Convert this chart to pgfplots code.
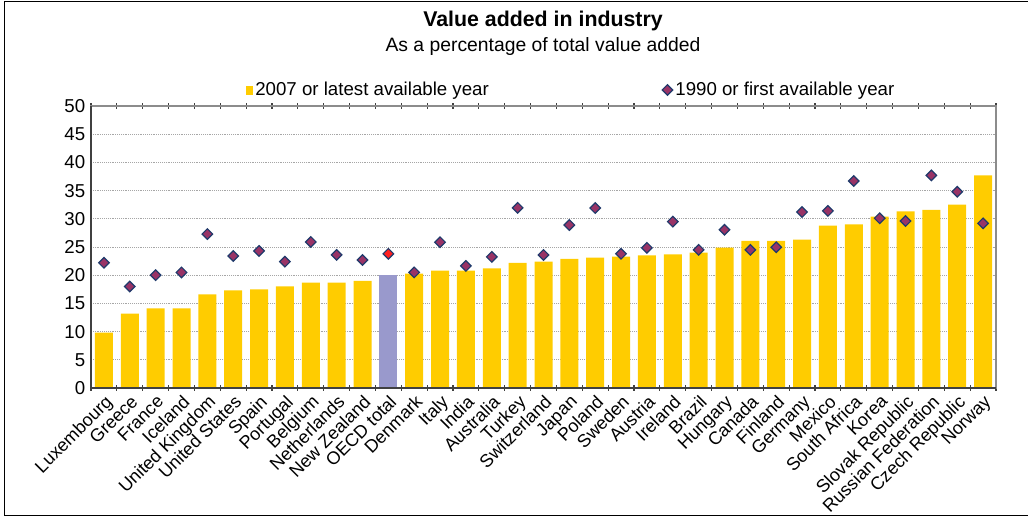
\documentclass[border=0pt]{standalone}
\usepackage{pgfplots}
\pgfplotsset{compat=1.18}
\usepackage{fontspec}
\setmainfont{Liberation Sans}
\definecolor{barY}{HTML}{FFCC00}
\definecolor{oecdB}{HTML}{9999CC}
\definecolor{dmFill}{HTML}{993366}
\definecolor{dmEdge}{HTML}{1F3A6B}
\definecolor{redF}{HTML}{FF2020}
\definecolor{frameGray}{HTML}{8C8C8C}
\definecolor{axDark}{HTML}{404040}
\begin{document}
\begin{tikzpicture}[x=0.75pt,y=0.75pt]
\useasboundingbox (0,0) rectangle (1028,518);
\draw[black, line width=1.2pt] (1032,516.5) -- (4.5,516.5) -- (4.5,2.5) -- (1032,2.5);
\node[font=\bfseries\fontsize{16}{18}\selectfont] at (543,497) {Value added in industry};
\node[font=\fontsize{14.5}{17}\selectfont] at (543,471) {As a percentage of total value added};
\begin{axis}[
  at={(68.25pt,97.5pt)}, anchor=south west,
  scale only axis, width=678.75pt, height=211.5pt,
  xmin=-0.5, xmax=34.5, ymin=0, ymax=50,
  ytick={0,5,...,50},
  xtick={0,...,34},
  xticklabels={Luxembourg,Greece,France,Iceland,United Kingdom,United States,Spain,Portugal,Belgium,Netherlands,New Zealand,OECD total,Denmark,Italy,India,Australia,Turkey,Switzerland,Japan,Poland,Sweden,Austria,Ireland,Brazil,Hungary,Canada,Finland,Germany,Mexico,South Africa,Korea,Slovak Republic,Russian Federation,Czech Republic,Norway},
  minor xtick={-0.5,0.5,...,34.5},
  major x tick style={draw=none},
  ytick style={draw=none},
  minor x tick style={axDark, line width=0.8pt},
  minor tick length=4pt,
  tick align=center,
  ymajorgrids,
  major grid style={densely dotted, gray!70, line width=0.6pt},
  axis line style={frameGray, line width=1.5pt},
  /pgf/number format/assume math mode=true,
  yticklabel style={font=\fontsize{14}{16}\selectfont, inner sep=2pt},
  xticklabel style={font=\fontsize{13.5}{16}\selectfont, rotate=45, anchor=north east, inner sep=1.5pt},
  legend style={at={(0.171,1.057)}, anchor=west, draw=none, fill=none, inner sep=0pt,
    font=\fontsize{14}{16}\selectfont, legend columns=2,
    /tikz/every even column/.append style={column sep=128pt}},
  legend cell align=left,
  clip=false,
]
\addplot[ybar, bar width=13.5pt, fill=barY, draw=none,
  legend image code/.code={\fill[barY] (0pt,-4pt) rectangle (5pt,3pt);}]
  coordinates {(0,9.8)(1,13.2)(2,14.1)(3,14.1)(4,16.6)(5,17.3)(6,17.5)(7,18.0)(8,18.7)(9,18.7)(10,19.0)(12,20.3)(13,20.8)(14,20.8)(15,21.2)(16,22.2)(17,22.4)(18,22.9)(19,23.1)(20,23.3)(21,23.5)(22,23.7)(23,24.0)(24,24.9)(25,26.1)(26,26.1)(27,26.3)(28,28.8)(29,29.0)(30,30.4)(31,31.3)(32,31.6)(33,32.5)(34,37.7)};
\addlegendentry{2007 or latest available year}
\addplot[ybar, bar width=13.5pt, fill=oecdB, draw=none, forget plot]
  coordinates {(11,20.1)};
\addplot[only marks, mark=square*, mark size=2.8pt, mark options={rotate=45, fill=dmFill, draw=dmEdge, line width=0.9pt}]
  coordinates {(0,22.2)(1,18.0)(2,20.0)(3,20.5)(4,27.3)(5,23.4)(6,24.3)(7,22.4)(8,25.9)(9,23.6)(10,22.7)(12,20.5)(13,25.85)(14,21.65)(15,23.25)(16,31.95)(17,23.6)(18,28.9)(19,31.9)(20,23.8)(21,24.85)(22,29.5)(23,24.5)(24,28.05)(25,24.5)(26,24.95)(27,31.2)(28,31.4)(29,36.7)(30,30.1)(31,29.6)(32,37.7)(33,34.8)(34,29.2)};
\addlegendentry{1990 or first available year}
\addplot[only marks, mark=square*, mark size=2.8pt, mark options={rotate=45, fill=redF, draw=dmEdge, line width=0.9pt}, forget plot]
  coordinates {(11,23.8)};
\draw[axDark, line width=1.5pt] (rel axis cs:0,1) -- (rel axis cs:0,0) -- (rel axis cs:1,0);
\end{axis}
\end{tikzpicture}
\end{document}
